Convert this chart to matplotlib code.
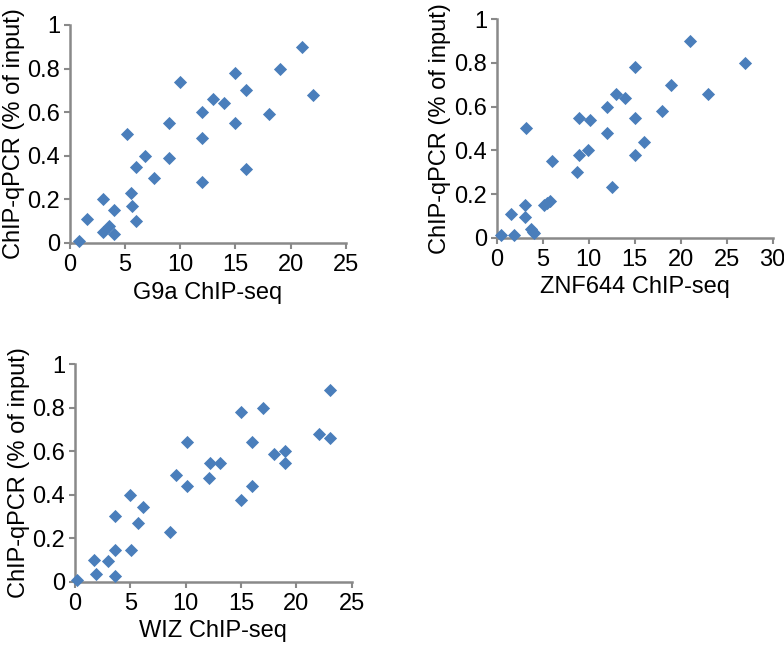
import matplotlib
matplotlib.use("Agg")
import matplotlib.pyplot as plt
from matplotlib.ticker import FuncFormatter

plt.rcParams['font.family'] = ['Liberation Sans', 'DejaVu Sans']

# G9a ChIP-seq vs ChIP-qPCR
g9a_x = [0.8, 1.5, 3.0, 3.0, 3.5, 4.0, 4.0, 5.2, 5.5, 5.6, 6.0, 6.0, 6.8, 7.6, 9.0, 9.0, 10.0,
         12.0, 12.0, 12.0, 13.0, 14.0, 15.0, 15.0, 16.0, 16.0, 18.0, 19.0, 21.0, 22.0]
g9a_y = [0.01, 0.11, 0.20, 0.05, 0.08, 0.15, 0.04, 0.50, 0.23, 0.17, 0.35, 0.10, 0.40, 0.30, 0.39, 0.55, 0.74,
         0.60, 0.48, 0.28, 0.66, 0.64, 0.78, 0.55, 0.70, 0.34, 0.59, 0.80, 0.90, 0.68]

# ZNF644 ChIP-seq vs ChIP-qPCR
znf_x = [0.5, 1.6, 1.9, 3.1, 3.1, 3.2, 3.7, 3.9, 4.1, 5.1, 5.5, 5.8, 6.0, 8.7, 9.0, 9.0, 9.9, 10.1,
         12.0, 12.0, 12.5, 13.0, 14.0, 15.0, 15.0, 15.0, 16.0, 18.0, 19.0, 21.0, 23.0, 27.0]
znf_y = [0.01, 0.11, 0.01, 0.15, 0.095, 0.50, 0.04, 0.025, 0.02, 0.15, 0.16, 0.17, 0.35, 0.30, 0.38, 0.55, 0.40, 0.54,
         0.60, 0.48, 0.23, 0.66, 0.64, 0.78, 0.55, 0.38, 0.44, 0.58, 0.70, 0.90, 0.66, 0.80]

# WIZ ChIP-seq vs ChIP-qPCR
wiz_x = [0.2, 1.7, 1.9, 3.0, 3.6, 3.6, 3.6, 5.0, 5.1, 5.7, 6.1, 8.6, 9.1, 10.1, 10.1, 12.1, 12.2, 13.1,
         15.0, 15.0, 16.0, 16.0, 17.0, 18.0, 19.0, 19.0, 22.0, 23.0, 23.0]
wiz_y = [0.01, 0.10, 0.035, 0.095, 0.145, 0.30, 0.025, 0.40, 0.145, 0.27, 0.345, 0.23, 0.49, 0.64, 0.44, 0.475, 0.545, 0.545,
         0.78, 0.375, 0.64, 0.44, 0.80, 0.585, 0.60, 0.545, 0.68, 0.66, 0.88]

panels = [
    (g9a_x, g9a_y, 'G9a ChIP-seq', 25, [0.0893, 0.6233, 0.3517, 0.338]),
    (znf_x, znf_y, 'ZNF644 ChIP-seq', 30, [0.6335, 0.6315, 0.352, 0.3386]),
    (wiz_x, wiz_y, 'WIZ ChIP-seq', 25, [0.0957, 0.0981, 0.3529, 0.3375]),
]

fig = plt.figure(figsize=(7.84, 6.45), dpi=100)
axis_grey = '#898989'

for xs, ys, xlab, xmax, rect in panels:
    ax = fig.add_axes(rect)
    ax.scatter(xs, ys, marker='D', s=45, color='#4A7EBB', linewidths=0, clip_on=False, zorder=3)
    ax.set_xlim(0, xmax)
    ax.set_ylim(0, 1)
    ax.set_xticks(range(0, xmax + 1, 5))
    ax.set_yticks([0, 0.2, 0.4, 0.6, 0.8, 1.0])
    ax.yaxis.set_major_formatter(FuncFormatter(lambda v, p: '%g' % round(v, 1)))
    for side in ['top', 'right']:
        ax.spines[side].set_visible(False)
    for side in ['left', 'bottom']:
        ax.spines[side].set_color(axis_grey)
        ax.spines[side].set_linewidth(1.8)
    ax.tick_params(direction='out', length=4, width=1.5, color=axis_grey, labelsize=17)
    ax.tick_params(axis='x', pad=4)
    ax.tick_params(axis='y', pad=3)
    ax.set_xlabel(xlab, fontsize=17, labelpad=4)
    ax.set_ylabel('ChIP-qPCR (% of input)', fontsize=17, labelpad=2)

plt.savefig('out.png', dpi=100)
